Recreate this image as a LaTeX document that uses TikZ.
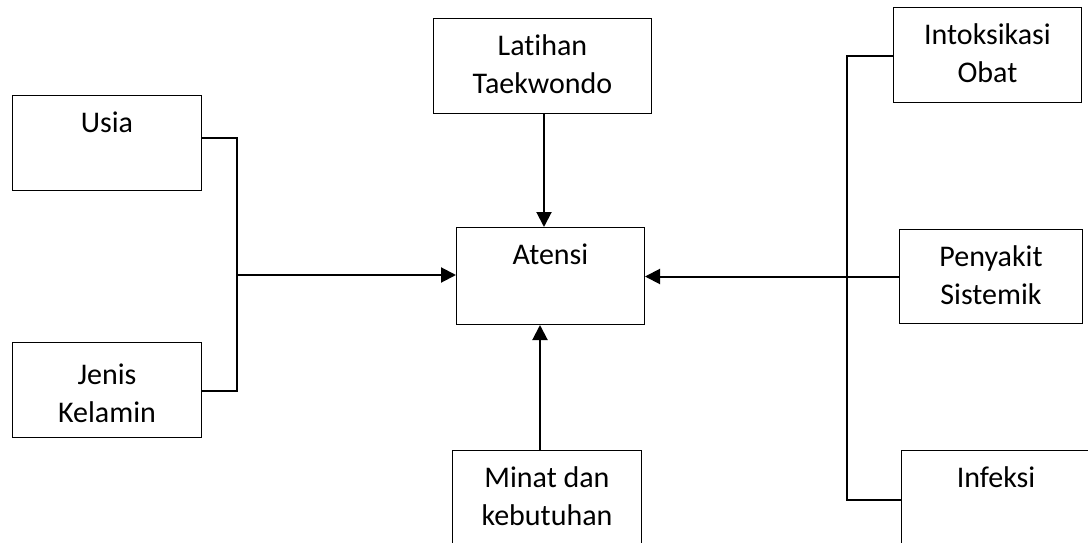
\documentclass[tikz,border=0pt]{standalone}
\usepackage{fontspec}
\setmainfont[Ligatures=NoCommon]{Carlito}
\usetikzlibrary{arrows.meta}
\newcommand{\boxtxt}[4][37pt]{\parbox[t][#3][t]{#2}{\centering\rule{0pt}{#1}#4}}
\begin{document}
\begin{tikzpicture}[x=1pt,y=-1pt,
  fbox/.style={draw=black, line width=1pt, inner sep=0pt, anchor=north west,
    font=\fontsize{30}{38}\selectfont},
  link/.style={draw=black, line width=2pt},
  arr/.style={link, -{Triangle[length=15pt,width=15pt]}}]
\useasboundingbox (0,0) rectangle (1088,543);
\fill[white] (0,0) rectangle (1088,543);
% boxes
\node[fbox] (usia) at (12,95) {\boxtxt{189pt}{95pt}{Usia}};
\node[fbox] (jenis) at (12,342) {\boxtxt[42pt]{189pt}{95pt}{Jenis\\Kelamin}};
\node[fbox] (lat) at (433,18) {\boxtxt{218pt}{95pt}{Latihan\\Taekwondo}};
\node[fbox] (atensi) at (456,227) {\boxtxt{188pt}{97pt}{Atensi}};
\node[fbox] (minat) at (452,450) {\boxtxt{189pt}{97pt}{Minat dan\\kebutuhan}};
\node[fbox] (intok) at (893,7) {\boxtxt{188pt}{95pt}{Intoksikasi\\Obat}};
\node[fbox] (peny) at (899,229) {\boxtxt{183pt}{94pt}{Penyakit\\Sistemik}};
\node[fbox] (inf) at (901,450) {\boxtxt{189pt}{97pt}{Infeksi}};
% left junction
\coordinate (lu) at (237,138);
\coordinate (lj) at (237,391);
\coordinate (lm) at (237,275);
\draw[link] (usia.east |- lu) -- (lu) -- (lj) -- (jenis.east |- lj);
\draw[arr] (lm) -- (atensi.west |- lm);
% top and bottom
\coordinate (tx) at (544,0);
\coordinate (bx) at (540,0);
\draw[arr] (lat.south -| tx) -- (atensi.north -| tx);
\draw[arr] (minat.north -| bx) -- (atensi.south -| bx);
% right junction
\coordinate (ri) at (846.5,56);
\coordinate (rf) at (846.5,500);
\draw[link] (intok.west |- ri) -- (ri) -- (rf) -- (inf.west |- rf);
\draw[arr] (peny.west) -- (atensi.east |- peny.west);
\end{tikzpicture}
\end{document}
